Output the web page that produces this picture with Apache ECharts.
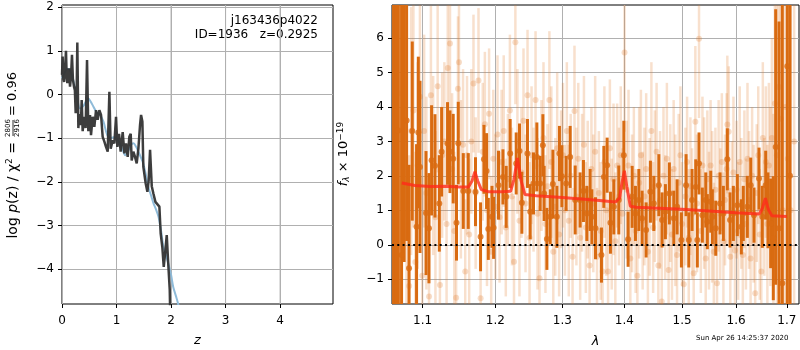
<!DOCTYPE html>
<html>
<head>
<meta charset="utf-8">
<script src="https://cdn.jsdelivr.net/npm/echarts@6/dist/echarts.min.js"></script>
<style>html,body{margin:0;padding:0;background:#fff}#main{width:800px;height:350px}</style>
</head>
<body>
<div id="main"></div>
<script>
// ---- left panel: log p(z) ----
const blackZ = [0.000, 0.012, 0.024, 0.037, 0.055, 0.073, 0.086, 0.098, 0.113, 0.128,
  0.147, 0.165, 0.183, 0.200, 0.220, 0.236, 0.251, 0.266, 0.281, 0.300,
  0.315, 0.330, 0.346, 0.361, 0.379, 0.404, 0.420, 0.434, 0.459, 0.483,
  0.514, 0.532, 0.563, 0.593, 0.624, 0.654, 0.685, 0.716, 0.746, 0.777,
  0.807, 0.838, 0.869, 0.893, 0.930, 0.960, 0.991, 1.015, 1.046, 1.076,
  1.113, 1.144, 1.174, 1.205, 1.235, 1.260, 1.278, 1.309, 1.339, 1.370,
  1.401, 1.431, 1.450, 1.474, 1.492, 1.535, 1.566, 1.590, 1.615, 1.646,
  1.676, 1.713, 1.749, 1.786, 1.810, 1.840, 1.866, 1.890, 1.921, 1.945,
  1.976, 2.000];
const blackLogp = [0.45, 0.87, 0.35, 0.29, 0.55, 1.00, 0.40, 0.26, 0.45, 0.60,
  0.18, 0.40, 0.91, 0.35, 0.18, 0.10, -0.43, -0.20, 1.19, -0.77,
  -0.45, -0.58, -0.70, -0.13, -0.84, -0.51, -0.65, -0.77, 0.79, -0.84,
  -0.47, -0.93, -0.51, -0.74, -0.36, -0.58, -0.36, -0.47, -0.97, -1.08,
  -1.20, -1.31, 0.06, -1.24, -1.05, -1.12, -0.51, -1.20, -0.90, -1.31,
  -0.86, -1.35, -1.12, -1.43, -0.97, -0.90, -1.51, -1.31, -1.43, -1.58,
  -1.24, -0.70, -0.47, -0.62, -1.66, -2.04, -2.23, -1.96, -1.27, -2.10,
  -2.27, -2.46, -2.50, -2.57, -3.19, -3.50, -3.95, -3.65, -3.22, -3.80,
  -4.48, -6.00];

const blueZ = [0.00, 0.05, 0.10, 0.15, 0.22, 0.28, 0.33, 0.40, 0.48, 0.55,
  0.64, 0.70, 0.76, 0.83, 0.90, 0.94, 1.00, 1.05, 1.10, 1.16,
  1.22, 1.27, 1.31, 1.36, 1.40, 1.45, 1.49, 1.54, 1.58, 1.63,
  1.68, 1.72, 1.77, 1.82, 1.86, 1.91, 1.95, 2.00, 2.04, 2.09,
  2.13, 2.20];
const blueLogp = [0.37, 0.50, 0.59, 0.55, 0.25, -0.10, -0.32, -0.25, -0.09, -0.22,
  -0.42, -0.47, -0.62, -0.93, -1.00, -0.98, -1.00, -1.10, -1.23, -1.39,
  -1.27, -1.15, -1.12, -1.20, -1.31, -1.45, -1.58, -1.85, -2.11, -2.30,
  -2.50, -2.62, -2.80, -3.15, -3.49, -3.70, -3.87, -4.13, -4.41, -4.62,
  -4.80, -5.20];

const zTicks = [0, 1, 2, 3, 4];
const zGridTicks = [1, 2, 3, 4];
const logpTicks = [-4, -3, -2, -1, 0, 1, 2];
const logpMin = -4.8;
const logpMax = 2.05;

// ---- right panel: spectrum ----
const darkWave = [1.0625, 1.0655, 1.0686, 1.0727, 1.0760, 1.0792, 1.0823, 1.0865, 1.0921, 1.0944,
  1.0966, 1.1045, 1.1084, 1.1119, 1.1164, 1.1222, 1.1253, 1.1333, 1.1366, 1.1410,
  1.1455, 1.1479, 1.1548, 1.1617, 1.1718, 1.1789, 1.1837, 1.1874, 1.1899, 1.1951,
  1.1974, 1.2045, 1.2109, 1.2156, 1.2214, 1.2302, 1.2351, 1.2386, 1.2469, 1.2510,
  1.2559, 1.2610, 1.2660, 1.2701, 1.2720, 1.2762, 1.2813, 1.2854, 1.2915, 1.2955,
  1.2993, 1.3059, 1.3122, 1.3201, 1.3279, 1.3332, 1.3386, 1.3439, 1.3467, 1.3525,
  1.3622, 1.3661, 1.3715, 1.3769, 1.3825, 1.3907, 1.3991, 1.4063, 1.4131, 1.4187,
  1.4244, 1.4300, 1.4369, 1.4443, 1.4502, 1.4589, 1.4646, 1.4704, 1.4774, 1.4852,
  1.4911, 1.4988, 1.5072, 1.5121, 1.5180, 1.5247, 1.5276, 1.5307, 1.5368, 1.5431,
  1.5460, 1.5523, 1.5553, 1.5616, 1.5697, 1.5759, 1.5834, 1.5885, 1.5948, 1.6024,
  1.6101, 1.6139, 1.6217, 1.6283, 1.6347, 1.6445, 1.6510, 1.6577, 1.6622, 1.6676,
  1.6728, 1.6776, 1.6843, 1.6909, 1.7010, 1.7065];
const darkFlux = [9.0, -4.0, 3.32, -0.30, 8.5, 3.61, -0.68, 3.30, 0.52, 3.26,
  2.26, 0.92, 0.48, 2.45, 2.29, 1.20, 2.70, 2.94, 2.70, 2.50,
  0.64, 2.95, 1.56, 1.56, 1.54, 0.23, 2.48, 2.14, 0.46, 0.81,
  0.49, 1.73, 1.97, 1.39, 2.65, 2.36, 2.72, 1.22, 2.65, 0.96,
  1.78, 2.55, 1.78, 2.89, 1.49, 0.17, 0.81, 1.76, 0.81, 2.65,
  1.99, 1.78, 2.55, 1.30, 1.30, 1.56, 0.91, 1.30, 0.81, 0.48,
  -0.30, 1.97, 2.31, 0.64, 1.10, 1.30, 2.60, 0.16, 1.39, 0.91,
  1.30, 0.77, 0.43, 1.54, 1.20, 1.73, 0.72, 0.96, 1.49, 0.77,
  1.10, 0.14, 1.73, 0.14, 1.30, 1.68, 0.14, 2.36, 0.86, 1.30,
  0.67, 1.25, 0.81, 0.48, 1.20, 0.91, 2.48, 0.72, 0.91, 1.15,
  0.52, 0.91, 1.10, 1.73, 0.86, 1.92, 0.81, 1.73, 1.00, 0.62,
  0.19, 2.84, 0.48, -1.12, 5.18, 2.0];
const darkErr = [12, 12, 10, 9, 9, 3.5, 3.0, 2.6, 2.4, 2.2,
  2.5, 1.8, 1.6, 1.6, 1.5, 1.4, 1.3, 1.2, 1.2, 1.3,
  1.1, 1.2, 1.1, 1.1, 1.0, 1.0, 1.0, 1.1, 0.9, 0.9,
  0.9, 1.0, 0.8, 0.9, 1.0, 0.9, 0.8, 0.9, 1.0, 0.8,
  0.9, 1.0, 0.8, 0.9, 0.8, 0.9, 0.8, 1.0, 0.9, 0.8,
  0.9, 0.8, 0.9, 1.0, 0.8, 0.9, 0.8, 0.9, 0.8, 0.9,
  0.8, 0.9, 0.8, 0.9, 0.8, 1.0, 1.0, 0.8, 0.9, 0.8,
  0.9, 0.8, 0.8, 0.9, 0.8, 0.9, 0.8, 0.8, 0.9, 0.8,
  0.8, 0.8, 0.9, 0.8, 0.9, 0.8, 0.8, 0.9, 0.8, 0.8,
  0.8, 0.9, 0.8, 0.8, 0.9, 0.8, 0.9, 0.8, 0.8, 0.9,
  0.8, 0.8, 0.9, 0.8, 0.8, 0.9, 0.9, 1.0, 1.1, 1.3,
  1.8, 4.0, 6, 9, 10, 12];

const lightWave = [1.0640, 1.0700, 1.0760, 1.0790, 1.0825, 1.0850, 1.0880, 1.0905, 1.0935, 1.0965,
  1.0995, 1.1020, 1.1050, 1.1085, 1.1110, 1.1140, 1.1170, 1.1200, 1.1230, 1.1260,
  1.1290, 1.1320, 1.1336, 1.1366, 1.1395, 1.1425, 1.1450, 1.1475, 1.1489, 1.1515,
  1.1545, 1.1575, 1.1600, 1.1630, 1.1660, 1.1690, 1.1720, 1.1760, 1.1790, 1.1820,
  1.1850, 1.1880, 1.1910, 1.1940, 1.1970, 1.2000, 1.2030, 1.2060, 1.2090, 1.2120,
  1.2150, 1.2180, 1.2210, 1.2240, 1.2270, 1.2290, 1.2320, 1.2350, 1.2380, 1.2410,
  1.2440, 1.2470, 1.2500, 1.2530, 1.2560, 1.2590, 1.2620, 1.2650, 1.2680, 1.2710,
  1.2740, 1.2770, 1.2800, 1.2830, 1.2860, 1.2890, 1.2920, 1.2950, 1.2980, 1.3010,
  1.3040, 1.3070, 1.3100, 1.3130, 1.3160, 1.3190, 1.3220, 1.3250, 1.3280, 1.3310,
  1.3340, 1.3370, 1.3400, 1.3430, 1.3460, 1.3490, 1.3520, 1.3550, 1.3580, 1.3610,
  1.3640, 1.3670, 1.3700, 1.3730, 1.3760, 1.3790, 1.3820, 1.3850, 1.3880, 1.3910,
  1.3940, 1.3970, 1.4003, 1.4040, 1.4070, 1.4100, 1.4130, 1.4160, 1.4190, 1.4220,
  1.4250, 1.4280, 1.4310, 1.4340, 1.4370, 1.4400, 1.4430, 1.4460, 1.4490, 1.4520,
  1.4550, 1.4580, 1.4610, 1.4640, 1.4670, 1.4700, 1.4730, 1.4760, 1.4790, 1.4820,
  1.4850, 1.4880, 1.4910, 1.4940, 1.4970, 1.5000, 1.5030, 1.5060, 1.5090, 1.5120,
  1.5150, 1.5180, 1.5210, 1.5240, 1.5270, 1.5307, 1.5340, 1.5370, 1.5400, 1.5430,
  1.5460, 1.5490, 1.5520, 1.5550, 1.5580, 1.5610, 1.5640, 1.5670, 1.5700, 1.5730,
  1.5760, 1.5790, 1.5820, 1.5834, 1.5860, 1.5890, 1.5920, 1.5950, 1.5980, 1.6010,
  1.6040, 1.6070, 1.6100, 1.6130, 1.6160, 1.6190, 1.6220, 1.6250, 1.6280, 1.6310,
  1.6340, 1.6370, 1.6400, 1.6430, 1.6460, 1.6490, 1.6520, 1.6550, 1.6580, 1.6610,
  1.6640, 1.6670, 1.6700, 1.6730, 1.6760, 1.6800, 1.6840, 1.6880, 1.6920, 1.6970,
  1.7020, 1.7080, 1.7150];
const lightFlux = [2.0, 4.4, 6.8, 0.9, -1.2, 3.3, 3.9, -0.5, 2.3, 4.3,
  -0.9, 3.3, 1.5, -1.5, 4.34, 2.3, 0.8, 4.6, -1.17, 2.6,
  3.0, 0.6, 5.13, 5.84, 2.2, 0.4, -1.54, 4.53, 5.3, 1.9,
  2.9, -0.78, 2.6, 0.3, 3.0, 4.68, 1.5, 4.77, -1.55, 2.7,
  3.5, 1.0, 3.8, -0.2, 2.5, 1.1, 3.2, 0.8, 2.4, 3.3,
  0.5, 1.9, 3.9, 1.4, -0.49, 5.88, 3.0, 0.7, 2.1, 3.6,
  1.2, 4.34, 0.2, 2.6, 1.6, 4.2, 0.9, -0.97, 2.3, 3.1,
  0.6, 1.7, 4.2, 2.4, -0.2, 1.1, 2.8, 0.3, 1.9, 2.6,
  1.0, 3.3, 0.7, 2.0, -0.35, 3.88, 1.4, 2.5, 0.2, 1.8,
  2.9, 0.5, 1.6, -0.6, 2.2, 1.2, 2.7, -0.35, 1.5, 0.4,
  -0.78, 2.4, 1.0, -0.78, 2.8, 0.6, 1.9, 0.1, 2.3, 1.4,
  2.6, 0.9, 5.58, 1.6, 2.3, -0.4, 1.2, 2.0, 0.4, -0.9,
  1.8, 2.6, 0.7, 1.4, 2.2, -0.2, 1.1, 3.3, 0.5, 1.7,
  2.7, -0.6, 1.3, -1.65, 2.0, 0.8, 2.5, -0.73, 1.5, 0.3,
  2.2, 1.0, -0.3, 1.8, 2.6, 0.6, -1.15, 1.4, 2.4, 0.2,
  1.7, 0.9, -0.83, 3.57, 1.2, 5.98, 0.4, 2.3, 1.5, -0.4,
  1.9, 0.7, 2.3, 1.1, -0.2, 1.6, -1.12, 2.0, 0.9, 2.4,
  0.1, 1.3, 2.2, 3.49, 3.28, -0.35, 1.0, 2.1, -0.17, 1.6,
  0.4, 2.4, 1.2, -0.3, 1.9, 0.6, 2.5, 1.3, -0.4, 2.0,
  0.9, -1.41, 1.5, 2.6, 0.3, -0.78, 3.1, 1.1, 2.4, 0.6,
  2.3, 1.4, 3.1, 0.5, 4.1, 2.6, 4.58, 3.66, 1.0, 4.0,
  2.5, 1.0, 3.0];
const lightErr = [9, 6, 4.5, 4.0, 3.8, 3.6, 3.4, 3.2, 3.0, 3.0,
  2.9, 2.8, 2.8, 2.7, 2.6, 2.6, 2.5, 2.5, 2.4, 2.4,
  2.3, 2.4, 2.2, 2.3, 2.2, 2.3, 2.4, 2.1, 2.2, 2.3,
  2.2, 2.1, 2.3, 2.2, 2.1, 2.0, 2.2, 2.1, 2.3, 2.0,
  2.1, 2.2, 1.9, 2.2, 2.0, 2.1, 2.3, 1.9, 2.1, 2.2,
  2.0, 1.9, 2.2, 2.0, 1.9, 1.8, 2.1, 2.2, 1.9, 2.1,
  2.0, 1.9, 2.2, 2.0, 1.8, 2.0, 2.2, 2.1, 1.9, 2.2,
  2.0, 1.8, 2.0, 2.2, 1.9, 2.0, 2.2, 1.8, 2.0, 2.1,
  1.9, 2.0, 2.2, 1.8, 2.0, 1.9, 2.0, 2.2, 1.8, 2.0,
  2.0, 1.9, 2.0, 2.2, 1.8, 2.0, 2.2, 2.0, 1.8, 2.0,
  2.1, 2.2, 1.9, 2.0, 2.0, 1.9, 2.2, 2.0, 1.8, 2.0,
  2.0, 1.9, 2.3, 2.0, 2.2, 1.9, 2.0, 2.0, 1.8, 2.0,
  2.2, 1.9, 2.0, 2.0, 2.2, 1.8, 2.0, 2.0, 1.9, 2.2,
  2.0, 1.9, 2.0, 2.2, 2.0, 1.8, 2.2, 2.0, 2.0, 1.9,
  2.0, 2.2, 1.9, 2.0, 2.0, 1.8, 2.2, 2.0, 1.9, 2.0,
  2.0, 1.9, 2.0, 2.2, 2.0, 2.3, 1.8, 2.0, 2.2, 1.9,
  2.0, 2.0, 1.9, 2.2, 2.0, 1.8, 2.0, 2.2, 1.9, 2.0,
  2.0, 1.9, 2.2, 2.0, 1.9, 2.0, 2.0, 2.2, 1.8, 2.0,
  2.0, 2.2, 1.9, 2.0, 2.0, 1.9, 2.2, 2.0, 1.9, 2.0,
  2.0, 2.2, 2.0, 2.0, 1.9, 2.0, 2.2, 2.0, 2.2, 2.3,
  2.4, 2.6, 2.9, 3.3, 4.0, 5.0, 6, 8, 9, 10,
  10, 10, 10];

const modelWave = [1.073, 1.09, 1.11, 1.13, 1.15, 1.162, 1.167, 1.171, 1.175, 1.18,
  1.19, 1.21, 1.222, 1.227, 1.232, 1.237, 1.243, 1.26, 1.30, 1.35,
  1.385, 1.392, 1.396, 1.400, 1.404, 1.41, 1.42, 1.50, 1.60, 1.645,
  1.651, 1.657, 1.663, 1.67, 1.70];
const modelFlux = [1.79, 1.72, 1.69, 1.70, 1.68, 1.68, 1.85, 2.12, 1.85, 1.60,
  1.54, 1.54, 1.55, 1.90, 2.52, 1.90, 1.46, 1.42, 1.37, 1.30,
  1.24, 1.35, 1.80, 2.15, 1.70, 1.12, 1.09, 1.03, 0.93, 0.89,
  1.05, 1.35, 1.02, 0.84, 0.82];

const waveTicks = [1.1, 1.2, 1.3, 1.4, 1.5, 1.6, 1.7];
const fluxTicks = [-1, 0, 1, 2, 3, 4, 5, 6];

const FONT = 'DejaVu Sans';
const ORANGE = '#d96b11';
const GRIDLINE = '#b0b0b0';
const LIGHT_BAR = 'rgba(225,125,45,0.24)';
const LIGHT_PT = 'rgba(225,125,45,0.32)';

const minus = (v) => (v < 0 ? '\u2212' + Math.abs(v) : String(v));
const zip2 = (a, b) => a.map((x, i) => [x, b[i]]);
const zip3 = (a, b, c) => a.map((x, i) => [x, b[i], c[i]]);

const errBar = (color, width) => (params, api) => {
  const x = api.value(0), y = api.value(1), e = api.value(2);
  const lo = api.coord([x, y - e]);
  const hi = api.coord([x, y + e]);
  return {
    type: 'line',
    shape: { x1: lo[0], y1: lo[1], x2: hi[0], y2: hi[1] },
    style: { stroke: color, lineWidth: width },
  };
};

const makeAxis = (extra, ticks, fmt, margin) => Object.assign({
  axisLine: { show: false, onZero: false },
  axisTick: { show: true, length: 4, lineStyle: { color: '#000' }, customValues: ticks },
  axisLabel: { color: '#000', fontFamily: FONT, fontSize: 12, customValues: ticks, formatter: fmt, margin: margin },
  splitLine: { show: true, lineStyle: { color: GRIDLINE, width: 1 } },
}, extra);

// one plain line series per vertical grid line of the p(z) panel
const zGridSeries = zGridTicks.map((v) => ({
  type: 'line', xAxisIndex: 0, yAxisIndex: 0, z: 2, silent: true,
  data: [[v, logpMin], [v, logpMax]], showSymbol: false,
  lineStyle: { color: GRIDLINE, width: 1, opacity: 1 },
}));

const chart = echarts.init(document.getElementById('main'), null, { renderer: 'canvas' });

chart.setOption({
  animation: false,
  backgroundColor: '#fff',
  grid: [
    { left: 62, top: 5, width: 271, height: 299, show: true, borderColor: '#000', borderWidth: 1, outerBoundsMode: 'none', containLabel: false },
    { left: 392, top: 5, width: 407, height: 299, show: true, borderColor: '#000', borderWidth: 1, outerBoundsMode: 'none', containLabel: false },
  ],
  xAxis: [
    makeAxis({
      type: 'value', gridIndex: 0, min: 0, max: 4.97,
      name: 'z', nameLocation: 'middle', nameGap: 30,
      nameTextStyle: { fontFamily: FONT, fontSize: 13, fontStyle: 'italic', color: '#000' },
    }, zTicks, (v) => minus(v), 11),
    makeAxis({
      type: 'log', logBase: 10, gridIndex: 1, min: 1.0605, max: 1.725,
      name: 'λ', nameLocation: 'middle', nameGap: 31,
      nameTextStyle: { fontFamily: FONT, fontSize: 13, fontStyle: 'italic', color: '#000' },
    }, waveTicks, (v) => v.toFixed(1), 11),
  ],
  yAxis: [
    makeAxis({ type: 'value', gridIndex: 0, min: logpMin, max: logpMax }, logpTicks, (v) => minus(v), 8),
    makeAxis({ type: 'value', gridIndex: 1, min: -1.72, max: 6.96 }, fluxTicks, (v) => minus(v), 8),
  ],
  graphic: [
    {
      type: 'group', x: 13, y: 156, rotation: Math.PI / 2,
      children: [
        { type: 'text', x: 14, y: 0, style: {
          text: 'log {i|p}(z) / χ{s|2} =', align: 'right', verticalAlign: 'middle',
          fontFamily: FONT, fontSize: 14, fill: '#000',
          rich: { i: { fontFamily: FONT, fontSize: 14, fontStyle: 'italic' }, s: { fontFamily: FONT, fontSize: 9, padding: [0, 0, 7, 0] } },
        } },
        { type: 'text', x: 28, y: -4.5, style: { text: '2806', align: 'center', verticalAlign: 'middle', fontFamily: FONT, fontSize: 7, fill: '#000' } },
        { type: 'line', shape: { x1: 20, y1: 0, x2: 36, y2: 0 }, style: { stroke: '#000', lineWidth: 0.8 } },
        { type: 'text', x: 28, y: 4.5, style: { text: '2916', align: 'center', verticalAlign: 'middle', fontFamily: FONT, fontSize: 7, fill: '#000' } },
        { type: 'text', x: 40, y: 0, style: { text: '= 0.96', align: 'left', verticalAlign: 'middle', fontFamily: FONT, fontSize: 13, fill: '#000' } },
      ],
    },
    {
      type: 'text', x: 344, y: 154, rotation: Math.PI / 2,
      style: {
        text: '{i|f}{b|λ} × 10{s|−19}', align: 'center', verticalAlign: 'middle',
        fontFamily: FONT, fontSize: 13, fill: '#000',
        rich: {
          i: { fontFamily: FONT, fontSize: 13, fontStyle: 'italic' },
          b: { fontFamily: FONT, fontSize: 9, fontStyle: 'italic', padding: [5, 0, 0, 0] },
          s: { fontFamily: FONT, fontSize: 9, padding: [0, 0, 7, 0] },
        },
      },
    },
    { type: 'text', right: 482, top: 15, style: { text: 'j163436p4022', align: 'right', fontFamily: FONT, fontSize: 12, fill: '#000' } },
    { type: 'text', right: 482, top: 29, style: { text: 'ID=1936   z=0.2925', align: 'right', fontFamily: FONT, fontSize: 12, fill: '#000' } },
    { type: 'text', left: 696, top: 335, style: { text: 'Sun Apr 26 14:25:37 2020', fontFamily: FONT, fontSize: 7, fill: '#000' } },
  ],
  series: zGridSeries.concat([
    {
      type: 'line', xAxisIndex: 0, yAxisIndex: 0, data: zip2(blueZ, blueLogp),
      showSymbol: false, smooth: 0.3, clip: true, z: 2,
      lineStyle: { color: '#8fbbd9', width: 2 },
    },
    {
      type: 'line', xAxisIndex: 0, yAxisIndex: 0, data: zip2(blackZ, blackLogp),
      showSymbol: false, clip: true, z: 3,
      lineStyle: { color: '#333333', width: 2.5, opacity: 0.95 },
    },
    {
      type: 'custom', xAxisIndex: 1, yAxisIndex: 1, clip: true, z: 2,
      data: zip3(lightWave, lightFlux, lightErr), renderItem: errBar(LIGHT_BAR, 2.5),
    },
    {
      type: 'scatter', xAxisIndex: 1, yAxisIndex: 1, z: 2, symbolSize: 6,
      data: zip2(lightWave, lightFlux), itemStyle: { color: LIGHT_PT },
    },
    {
      type: 'custom', xAxisIndex: 1, yAxisIndex: 1, clip: true, z: 3,
      data: zip3(darkWave, darkFlux, darkErr), renderItem: errBar(ORANGE, 3),
    },
    {
      type: 'scatter', xAxisIndex: 1, yAxisIndex: 1, z: 3, symbolSize: 6,
      data: zip2(darkWave, darkFlux), itemStyle: { color: ORANGE },
    },
    {
      type: 'line', xAxisIndex: 1, yAxisIndex: 1, data: zip2(modelWave, modelFlux),
      showSymbol: false, clip: true, z: 4,
      lineStyle: { color: '#ff2a1a', width: 3, opacity: 0.8 },
      markLine: {
        silent: true, symbol: ['none', 'none'], label: { show: false },
        lineStyle: { color: '#000', width: 2, type: [2, 3.3], opacity: 1 },
        data: [{ yAxis: 0 }],
      },
    },
  ]),
});
</script>
</body>
</html>
